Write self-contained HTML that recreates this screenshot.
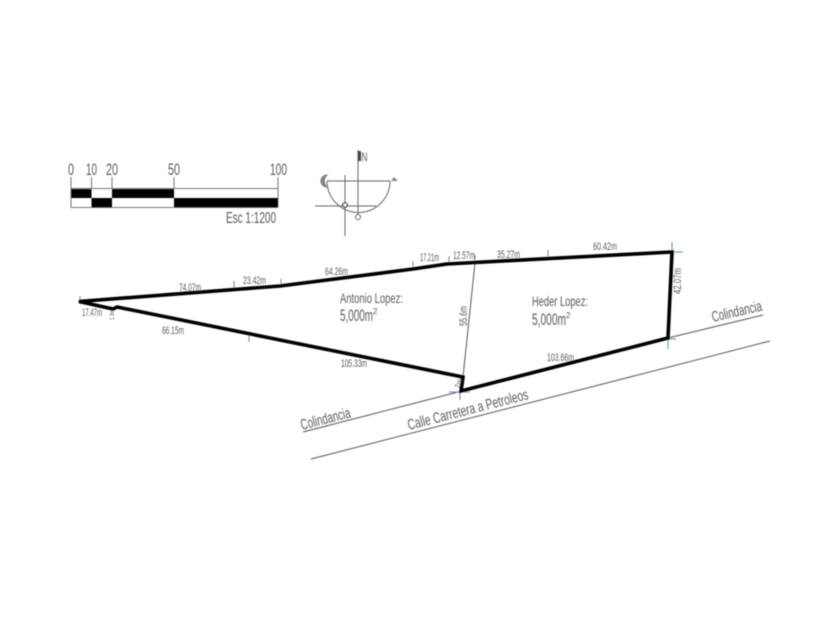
<!DOCTYPE html>
<html><head><meta charset="utf-8"><style>
html,body{margin:0;padding:0;background:#fff;width:840px;height:630px;overflow:hidden}
svg{display:block}
text{font-family:"Liberation Sans Narrow","Liberation Sans",sans-serif;fill:#5a5a5a}
</style></head><body>
<svg width="840" height="630" viewBox="0 0 840 630" xmlns="http://www.w3.org/2000/svg">
<defs><filter id="b" x="-5%" y="-5%" width="110%" height="110%"><feGaussianBlur stdDeviation="0.45"/></filter></defs>
<g filter="url(#b)">
<!-- scale bar -->
<g stroke="#777" stroke-width="1" fill="none">
<path d="M71 177V207.5M278 177V207.5M91.5 177V188M112 177V188M174 177V188M71 188.5H278M71 207.5H278"/>
</g>
<g fill="#000">
<rect x="71" y="189" width="20.5" height="9"/>
<rect x="112" y="189" width="62" height="9"/>
<rect x="91.5" y="198" width="20.5" height="9.5"/>
<rect x="174" y="198" width="104" height="9.5"/>
</g>
<g font-size="17">
<text x="68" y="175" textLength="6" lengthAdjust="spacingAndGlyphs">0</text>
<text x="86" y="175" textLength="11" lengthAdjust="spacingAndGlyphs">10</text>
<text x="106" y="175" textLength="12" lengthAdjust="spacingAndGlyphs">20</text>
<text x="168" y="175" textLength="12" lengthAdjust="spacingAndGlyphs">50</text>
<text x="270" y="175" textLength="17" lengthAdjust="spacingAndGlyphs">100</text>
<text x="226" y="223" font-size="16" textLength="50" lengthAdjust="spacingAndGlyphs">Esc 1:1200</text>
</g>
<!-- compass -->
<g stroke="#666" stroke-width="1" fill="none">
<path d="M327 181H390"/>
<path d="M327 181A31.5 31.5 0 0 0 390 181"/>
<path d="M358 150V214"/>
<path d="M345 175V236"/>
<path d="M315 206H376"/>
<circle cx="358" cy="217" r="2.5"/>
</g>
<circle cx="345" cy="205" r="2.2" fill="#fff" stroke="#222" stroke-width="1.2"/>
<rect x="358" y="151" width="3" height="10" fill="#444"/>
<text x="361.5" y="161" font-size="12" textLength="6" lengthAdjust="spacingAndGlyphs">N</text>
<path d="M327 175A6 6 0 0 0 327 187A8 8 0 0 1 327 175Z" fill="#888" stroke="#777" stroke-width="1"/>
<path d="M391 181L394 177L398 181Z" fill="#888"/>
<!-- road lines -->
<g stroke="#555" stroke-width="1" fill="none">
<path d="M303 432L458 392"/>
<path d="M668 338L763 315"/>
<path d="M311 459L770 341"/>
<path d="M475 263L463 377"/>
</g>
<!-- ticks -->
<g stroke="#6d8aa5" stroke-width="1" fill="none">
<path d="M80 296V302M234 281V288M281 279V286M413 261V270M449 256V265M475 255V263M548 250V259M672 242V264M662 252H683"/>
<path d="M668 330V349M660 339H676M249 335V342M460 385V400M449 392H470"/>
</g>
<!-- boundary -->
<path d="M79 301.5L280 286L413 269L447 264L672 252L668 338L461 391L463 377L117 307L113 309L79 301.5Z" fill="none" stroke="#000" stroke-width="3.6" stroke-linejoin="miter" stroke-miterlimit="3"/>
<!-- dims -->
<g font-size="11">
<text x="179" y="291" textLength="22" lengthAdjust="spacingAndGlyphs">74.07m</text>
<text x="243" y="284" textLength="23" lengthAdjust="spacingAndGlyphs">23.42m</text>
<text x="325" y="275" textLength="23" lengthAdjust="spacingAndGlyphs">64.26m</text>
<text x="420" y="261" textLength="19" lengthAdjust="spacingAndGlyphs">17.21m</text>
<text x="453" y="259" textLength="22" lengthAdjust="spacingAndGlyphs">12.57m</text>
<text x="497" y="258" textLength="23" lengthAdjust="spacingAndGlyphs">35.27m</text>
<text x="593" y="250" textLength="24" lengthAdjust="spacingAndGlyphs">60.42m</text>
<text x="82" y="316" textLength="20" lengthAdjust="spacingAndGlyphs">17.47m</text>
<text x="162" y="334" textLength="22" lengthAdjust="spacingAndGlyphs">66.15m</text>
<text x="341" y="367" textLength="26" lengthAdjust="spacingAndGlyphs">105.33m</text>
<text x="547" y="361" textLength="27" lengthAdjust="spacingAndGlyphs">103.66m</text>
<text transform="translate(467 326) rotate(-90)" textLength="20" lengthAdjust="spacingAndGlyphs">55.6m</text>
<text transform="translate(681 294) rotate(-90)" textLength="26" lengthAdjust="spacingAndGlyphs">42.07m</text>
<text transform="translate(114 320) rotate(-90)" font-size="6" textLength="10" lengthAdjust="spacingAndGlyphs">1.3m</text>
<text transform="translate(459 389) rotate(-70)" font-size="7" textLength="10" lengthAdjust="spacingAndGlyphs">7m</text>
</g>
<!-- owners -->
<g>
<text x="340" y="303" font-size="14" textLength="63" lengthAdjust="spacingAndGlyphs">Antonio Lopez:</text>
<text x="340" y="321" font-size="17" textLength="33" lengthAdjust="spacingAndGlyphs">5,000m</text>
<text x="373" y="314" font-size="8">2</text>
<text x="532" y="306" font-size="14" textLength="56" lengthAdjust="spacingAndGlyphs">Heder Lopez:</text>
<text x="532" y="325" font-size="17" textLength="34" lengthAdjust="spacingAndGlyphs">5,000m</text>
<text x="566" y="318" font-size="8">2</text>
</g>
<!-- road labels -->
<g font-size="15">
<text transform="translate(302 430) rotate(-14.5)" textLength="51" lengthAdjust="spacingAndGlyphs">Colindancia</text>
<text transform="translate(409 430) rotate(-14.5)" textLength="124" lengthAdjust="spacingAndGlyphs">Calle Carretera a Petroleos</text>
<text transform="translate(713 322) rotate(-13)" textLength="51" lengthAdjust="spacingAndGlyphs">Colindancia</text>
</g>
</g>
</svg>
</body></html>
